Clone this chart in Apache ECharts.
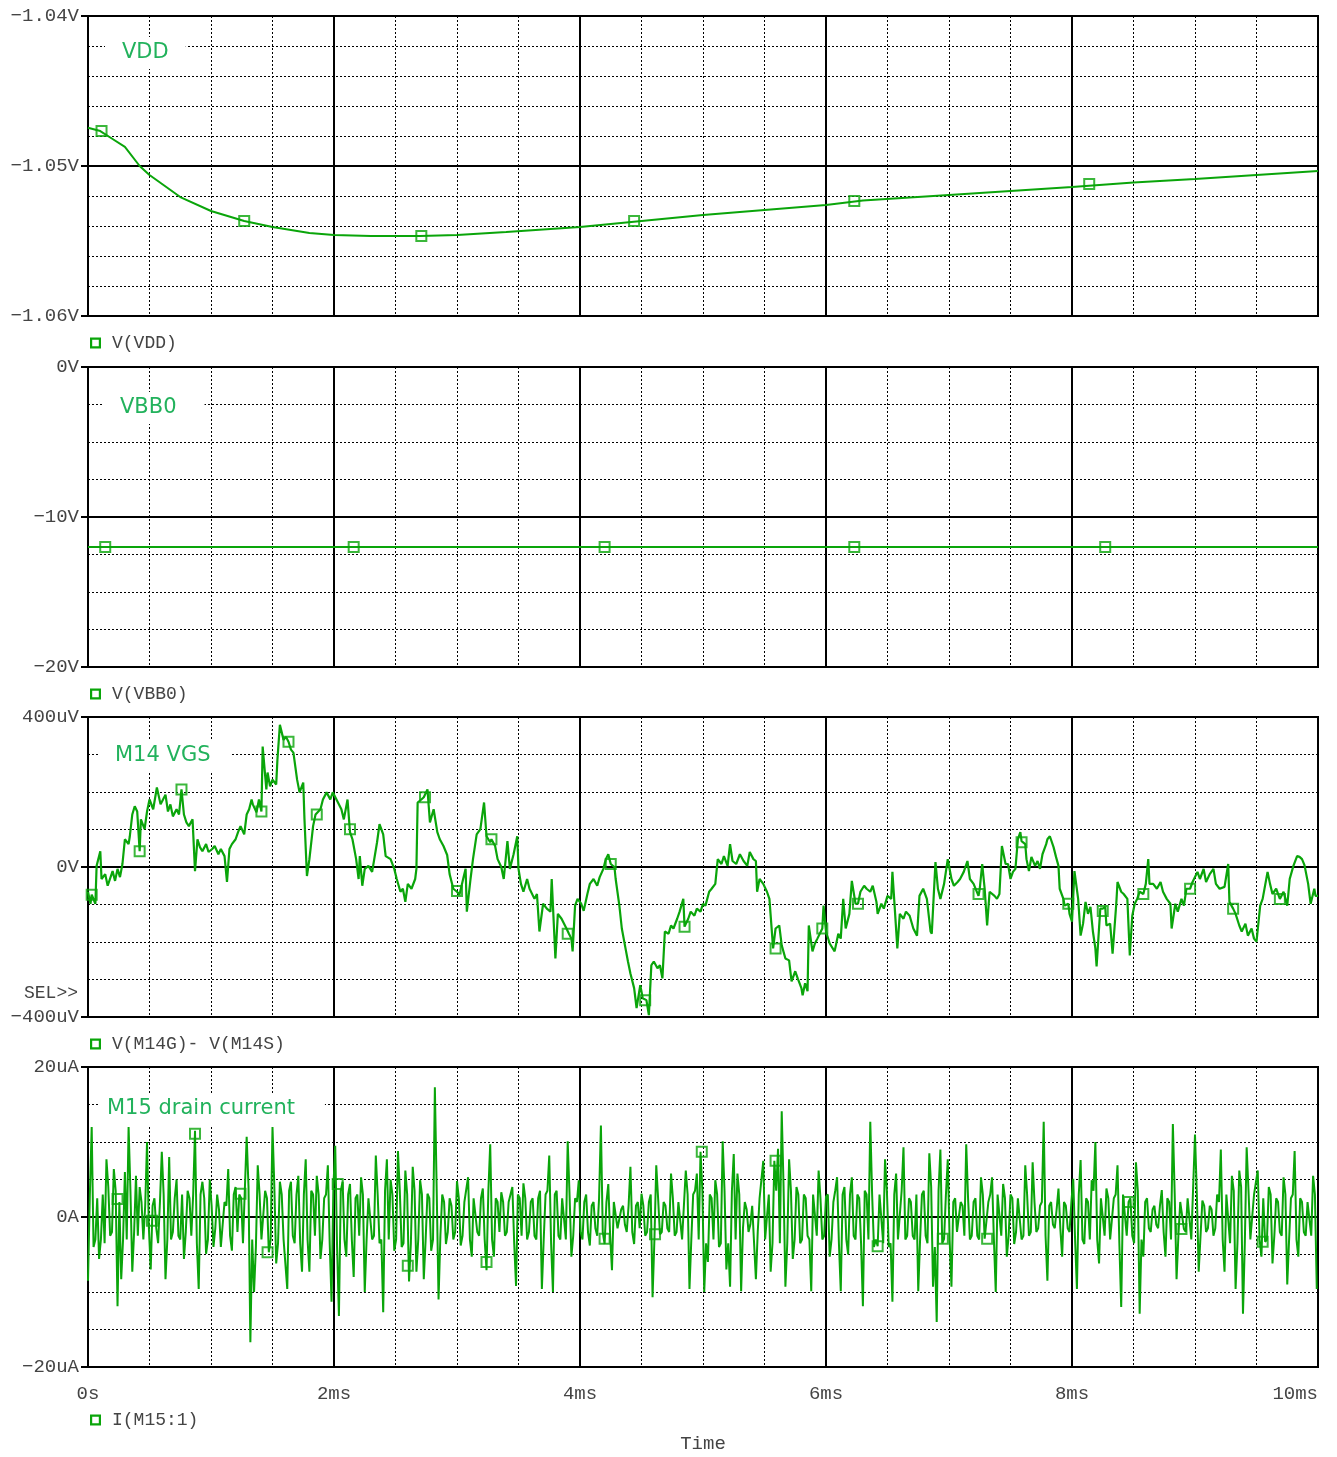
<!DOCTYPE html>
<html lang="en">
<head>
    <meta charset="UTF-8">
    <title>Transient noise</title>
    <script src="https://cdn.jsdelivr.net/npm/echarts@6/dist/echarts.min.js"></script>
    <style>
        body {
            margin: 0;
            background: #fff;
        }
        #chart {
            width: 1337px;
            height: 1457px;
        }
    </style>
</head>
<body>
<div id="chart"></div>
<script>
    // tick labels
    const timeTicks = ['0s', '2ms', '4ms', '6ms', '8ms', '10ms'];
    const vddTicks = ['\u22121.06V', '\u22121.05V', '\u22121.04V'];
    const vbbTicks = ['\u221220V', '\u221210V', '0V'];
    const vgsTicks = ['\u2212400uV', '0V', '400uV'];
    const idTicks = ['\u221220uA', '0A', '20uA'];

    // V(VDD), time in ms, value in V
    const vddT = [0, 0.1, 0.2, 0.3, 0.42, 0.5, 0.75, 1.0, 1.27, 1.5, 1.8, 2.0, 2.3, 2.7, 3.0, 3.4,
        4.0, 4.5, 5.0, 5.5, 6.0, 6.3, 7.0, 7.5, 8.0, 8.5, 9.0, 9.5, 10.0];
    const vddV = [-1.04745, -1.04767, -1.0482, -1.04873, -1.05, -1.0506, -1.05207, -1.053, -1.05367,
        -1.05407, -1.05447, -1.0546, -1.05467, -1.05467, -1.0546, -1.0544, -1.05407, -1.05367,
        -1.05327, -1.05293, -1.0526, -1.0523, -1.05193, -1.05167, -1.0514, -1.0511, -1.05087,
        -1.0506, -1.05033];
    const vddMarkT = [0.11, 1.27, 2.71, 4.44, 6.23, 8.14];
    const vddMarkV = [-1.04767, -1.05367, -1.05467, -1.05367, -1.05233, -1.0512];

    // V(VBB0)
    const vbbT = [0, 10];
    const vbbV = [-12, -12];
    const vbbMarkT = [0.14, 2.16, 4.2, 6.23, 8.27];

    // V(M14G)-V(M14S), [ms, uV]
    const vgsData = [
        [0, -66], [0.02, -98], [0.03, -74], [0.06, -98], [0.07, 3], [0.10, 42], [0.11, -32], [0.14, -19],
        [0.16, -50], [0.20, -11], [0.22, -37], [0.24, -5], [0.26, -27], [0.28, 8], [0.30, 74], [0.33, 61],
        [0.34, 82], [0.36, 140], [0.38, 162], [0.40, 148], [0.42, 42], [0.43, 127], [0.46, 101], [0.48, 148],
        [0.50, 180], [0.53, 154], [0.56, 212], [0.59, 167], [0.61, 180], [0.63, 193], [0.65, 148], [0.67, 167],
        [0.69, 135], [0.72, 154], [0.74, 140], [0.76, 207], [0.78, 140], [0.80, 119], [0.82, 109], [0.85, 127],
        [0.87, -11], [0.89, 74], [0.91, 53], [0.93, 42], [0.96, 61], [0.98, 40], [1.01, 48], [1.03, 56],
        [1.06, 34], [1.08, 48], [1.11, 29], [1.13, -40], [1.15, 48], [1.17, 61], [1.20, 74], [1.22, 93],
        [1.24, 109], [1.27, 87], [1.29, 140], [1.31, 154], [1.33, 180], [1.34, 167], [1.37, 146], [1.39, 180],
        [1.41, 148], [1.42, 321], [1.45, 207], [1.46, 252], [1.48, 215], [1.50, 233], [1.53, 220], [1.54, 286],
        [1.56, 379], [1.59, 339], [1.61, 347], [1.63, 334], [1.65, 313], [1.67, 305], [1.70, 233], [1.72, 199],
        [1.75, 225], [1.76, 127], [1.78, -24], [1.80, 21], [1.83, 109], [1.85, 140], [1.89, 154], [1.91, 180],
        [1.94, 199], [1.97, 180], [1.99, 199], [2.02, 180], [2.06, 154], [2.08, 127], [2.11, 180], [2.13, 93],
        [2.15, 74], [2.18, 21], [2.20, -32], [2.21, 29], [2.23, -50], [2.25, -5], [2.28, 3], [2.31, -13],
        [2.35, 66], [2.37, 114], [2.40, 87], [2.42, 29], [2.46, 21], [2.49, -5], [2.51, -32], [2.54, -66],
        [2.56, -58], [2.58, -93], [2.60, -45], [2.63, -58], [2.66, -32], [2.67, -5], [2.68, 172], [2.71, 180],
        [2.73, 186], [2.76, 207], [2.78, 119], [2.81, 154], [2.84, 93], [2.86, 74], [2.89, 56], [2.92, 32],
        [2.94, -19], [2.97, -58], [3.00, -66], [3.02, -74], [3.05, -32], [3.07, -5], [3.08, -119], [3.11, -32],
        [3.13, 21], [3.16, 87], [3.19, 101], [3.22, 172], [3.24, 82], [3.27, 66], [3.28, 74], [3.31, 56],
        [3.33, 21], [3.36, 0], [3.38, -32], [3.41, 69], [3.43, -5], [3.46, 34], [3.49, 82], [3.50, -5],
        [3.52, -45], [3.54, -66], [3.57, -32], [3.59, -58], [3.63, -85], [3.65, -72], [3.67, -172], [3.70, -98],
        [3.73, -111], [3.76, -119], [3.77, -32], [3.80, -244], [3.82, -125], [3.85, -138], [3.89, -164], [3.91, -178],
        [3.93, -191], [3.94, -225], [3.96, -103], [3.98, -85], [4.01, -98], [4.03, -117], [4.06, -72], [4.08, -45],
        [4.11, -32], [4.14, -50], [4.16, -27], [4.19, -5], [4.21, 21], [4.23, 34], [4.25, 8], [4.28, 0],
        [4.29, -32], [4.32, -103], [4.34, -164], [4.37, -217], [4.39, -252], [4.41, -284], [4.44, -323], [4.46, -376],
        [4.49, -315], [4.51, -350], [4.54, -355], [4.56, -395], [4.58, -262], [4.60, -252], [4.63, -270], [4.65, -262],
        [4.67, -297], [4.69, -172], [4.72, -178], [4.74, -156], [4.76, -164], [4.79, -138], [4.81, -119], [4.84, -85],
        [4.85, -159], [4.88, -138], [4.90, -119], [4.93, -130], [4.95, -111], [4.98, -119], [5.00, -98], [5.02, -103],
        [5.05, -66], [5.07, -58], [5.10, -45], [5.12, 21], [5.15, 8], [5.17, 29], [5.20, 3], [5.22, 61],
        [5.24, 16], [5.27, 8], [5.30, 34], [5.33, 16], [5.36, 3], [5.38, 40], [5.41, 21], [5.43, 16],
        [5.44, -66], [5.46, -32], [5.49, -45], [5.52, -66], [5.54, -85], [5.57, -217], [5.59, -164], [5.62, -156],
        [5.64, -209], [5.67, -244], [5.70, -249], [5.72, -305], [5.75, -278], [5.77, -297], [5.80, -323], [5.81, -342],
        [5.83, -310], [5.85, -331], [5.86, -156], [5.89, -225], [5.91, -204], [5.93, -191], [5.97, -164], [5.98, -103],
        [6.00, -172], [6.03, -204], [6.07, -225], [6.10, -178], [6.12, -191], [6.14, -85], [6.16, -164], [6.19, -125],
        [6.21, -37], [6.24, -98], [6.26, -98], [6.28, -66], [6.31, -50], [6.33, -58], [6.36, -66], [6.38, -50],
        [6.41, -93], [6.42, -125], [6.45, -98], [6.47, -111], [6.50, -77], [6.53, -85], [6.54, -13], [6.58, -217],
        [6.60, -125], [6.63, -138], [6.65, -119], [6.68, -130], [6.71, -164], [6.74, -183], [6.76, -77], [6.79, -58],
        [6.82, -85], [6.85, -172], [6.86, -178], [6.89, 13], [6.91, -58], [6.93, -85], [6.96, -45], [6.99, 21],
        [7.02, -32], [7.04, -50], [7.07, -40], [7.09, -32], [7.12, -13], [7.15, 16], [7.17, -32], [7.20, -45],
        [7.24, -77], [7.25, -58], [7.27, 8], [7.29, -58], [7.31, -156], [7.33, -66], [7.37, -77], [7.39, -85],
        [7.41, -72], [7.43, 56], [7.46, 8], [7.48, 8], [7.50, -32], [7.52, -13], [7.54, -5], [7.56, 74],
        [7.58, 93], [7.59, 69], [7.62, 61], [7.63, 21], [7.65, -11], [7.67, 27], [7.70, 3], [7.72, 16],
        [7.74, -5], [7.76, 34], [7.79, 61], [7.80, 74], [7.82, 82], [7.85, 53], [7.87, 27], [7.89, 3],
        [7.90, -58], [7.93, -85], [7.94, -103], [7.97, -98], [7.98, -125], [8.00, -146], [8.02, -11], [8.05, -85],
        [8.07, -183], [8.09, -151], [8.11, -93], [8.13, -125], [8.15, -106], [8.17, -172], [8.19, -217], [8.20, -265],
        [8.23, -111], [8.25, -111], [8.27, -106], [8.28, -156], [8.31, -151], [8.33, -231], [8.36, -98], [8.37, -40],
        [8.40, -66], [8.42, -72], [8.45, -85], [8.47, -236], [8.49, -130], [8.51, -98], [8.53, -85], [8.55, -66],
        [8.58, -72], [8.60, -45], [8.62, 21], [8.63, -45], [8.66, -45], [8.69, -58], [8.72, -40], [8.74, -66],
        [8.77, -85], [8.80, -98], [8.81, -164], [8.84, -98], [8.86, -119], [8.89, -85], [8.91, -103], [8.93, -58],
        [8.96, -58], [8.98, -40], [9.02, -13], [9.04, -32], [9.07, -5], [9.09, -40], [9.12, -19], [9.15, -5],
        [9.17, -45], [9.20, -58], [9.24, -53], [9.27, 8], [9.28, -93], [9.31, -111], [9.33, -125], [9.36, -156],
        [9.38, -172], [9.41, -151], [9.43, -183], [9.46, -164], [9.48, -191], [9.50, -199], [9.53, -103], [9.55, -85],
        [9.59, -13], [9.61, -45], [9.63, -72], [9.66, -58], [9.69, -85], [9.72, -66], [9.75, -103], [9.77, -32],
        [9.80, 3], [9.83, 29], [9.85, 27], [9.87, 21], [9.89, 5], [9.92, -45], [9.94, -98], [9.97, -58],
        [9.98, -77], [10.00, -77]
    ];
    const vgsMarkers = [
        [0.03, -74], [0.42, 42], [0.76, 207], [1.41, 148], [1.63, 334], [1.86, 140], [2.13, 101], [2.74, 186],
        [3.00, -64], [3.28, 74], [3.90, -178], [4.25, 8], [4.53, -355], [4.85, -159], [5.59, -217], [5.97, -164],
        [6.26, -98], [7.24, -72], [7.59, 66], [7.97, -98], [8.25, -117], [8.58, -72], [8.96, -58], [9.31, -111],
        [9.69, -85]
    ];

    // I(M15:1) in uA: peaks read every 0.03 ms, plus the band values read half way between them
    const idStep = 0.03;
    const idV = [
        -8.5, 12, -3, -5.6, 3, 7.7, -2.5, 6.4, -11.9, -8.3,
        6, 12, -7.3, 5.5, 4, -3, 10, -7, 2.5, -3.5,
        8.7, -8.3, 8, -2, 5, -3, -5.6, 3.5, -2.5, 11.5,
        -9.6, 4.7, -4.9, 5, -4, 3, -4, 2, 6.4, -4.5,
        4, 3, -3.5, 10.7, -16.7, -10, 6.9, -3, 3.5, -4.7,
        12, -6.2, 4.7, -3, -9.6, 4.7, -3.5, 5.5, -7.3, 7.7,
        -7.3, 3, 5.5, -5.6, 2.5, 6.9, -11.3, 9.5, -13.2, 4.7,
        -5.3, 4.4, -8, 3, 5.3, -10, 2.5, -3, 8.2, -3.5,
        -12.7, 7.7, 5, -4.5, 8.8, -4, 6.2, -8.6, 6.7, -7.3,
        4.9, -8.3, 3.1, -4.5, 17.3, -11, 3, -3.6, 2.5, -3,
        4.8, -3.8, 2, 5.3, -5.3, 2.7, -2.5, 3.8, -7.1, 9.7,
        -5.3, 2, 3.3, -2.5, 2, 4, -9.2, 2.5, 4.5, -3,
        2, -2.5, 2.5, -9.6, 3, 8.2, -10, 3.5, -3, 2.5,
        10.1, -5.3, 2.5, 4.9, -3, 3, -3.8, 2, -2.5, 12.2,
        -3.6, 4.4, -7.1, 2, -1.5, 1.5, -2, 6.7, -3.6, 2,
        3.1, -2.5, 2, -10.7, 6.9, -2.3, 2, -1.5, 5.8, -2.5,
        2, -3, 6.2, -9.6, 3, 5.8, 8.7, -10, -6, 2.5,
        4.9, -4, 10.1, -7, -9.3, 8.4, 5.8, -9.9, 2, -2,
        1.5, -8.3, 2.5, 7.5, -3, -7.3, 7.5, 9.1, 14.1, -9.3,
        7.7, -5.6, 4, -3.5, 3, -2.5, -9.9, 3, 6.2, -3,
        2.7, -5.3, 2, 5.3, -9.9, 4, -5, 5.3, -3, 2.5,
        -11.9, 3, 12.7, -4, -3.9, 3, 7.7, -4, -11.3, 5.8,
        -3, 9.3, -2.5, 2, -3, -9.9, 3, -2.5, 8.5, -9.3,
        -14, 9, -2.9, 7.7, -9.3, 2.5, -2, 1.5, 9.7, -3,
        2, -2.5, 5.3, -2.9, 2, 5.3, -10, 3, 4.4, -5.3,
        3, -3.6, 2.5, -3, 6.9, -2.5, 7.3, -2, 1.5, 12.7,
        -8.5, 2, -1.5, 3.8, -5.3, 1.5, -2, 5.1, -9.6, 7.6,
        -3.6, 2, 4.9, 10, -6.2, 2.5, 3.8, -3, 2.5, 6.9,
        -12, 3, 2, -2.5, 7.3, -12.9, -5.3, 2.5, -2, 1.5,
        -1.5, 3.6, -5.3, 2, 12.4, -8.3, 2, -1.6, 2.5, -3,
        11, -7.3, 2.2, -2, 1.5, -2.5, 3, 9, -7.3, 3,
        5.5, -9.6, 6.2, -12.9, 9.3, -3, 3, 6.2, -5.3, -3.3,
        4, -6.2, 2.5, -2, 5.3, -9, 2.5, 8.8, -5.3, 2,
        -2.5, 2.2, 5.5, -9.6
    ];
    const idMid = [
        3, -4, 2.5, -3, -3.5, 4, -2, 3.5, 2, -3,
        -3, 3.5, -2, -2.5, 2, 1.5, -1.5, 1.5, -1.5, 2,
        3, -3, -3, 2.5, -2.5, 3, -2, 2.5, 3, -3.5,
        3, 2.5, -3, 1.5, -1.5, 1, -1, 1.5, -2.5, 3,
        -2, 2.5, -3.5, 4, -3, -4, 3, -3, 2.5, -3,
        4, -3.5, 3, -3, 3.5, -2.5, 3, -3.5, 3, -3,
        3.5, -2.5, 3, -3, 3, -3.5, 4, -4, 3.5, -3,
        3, -3, 2.5, -2.5, 3, -3, 2.5, -2.5, 3, -3,
        3.5, -3, 3, -3, 3.5, -3.5, 3, -3.5, 3.5, -3,
        3, -3, 2.5, -3, 3.5, -2.5, 2, -2, 1.5, -2,
        2.5, -2.5, 2, -3, 2.5, -2, 2.5, -3, 3.5, -3,
        2.5, -2, 2, -2, 3, -3.5, 3, -2.5, 2.5, -2,
        2.5, -3, 3.5, -3, 3.5, -3.5, 3, -2.5, 2.5, -3,
        3, -2.5, 2, -2, 2, -2, 1.5, -1.5, 2.5, -2,
        2, -2.5, 2, -1.5, 1, -1, 1.5, -2, 1.5, -1.5,
        1.5, -2, 3, -3, 2.5, -2, 1.5, -2, 2.5, -2,
        2, -3, 3, -3, 3.5, -3, 3.5, -3.5, 3, -3,
        3, -3.5, 3.5, -3.5, 3.5, -3, 3, -1.5, 1, -1,
        1.5, -2, 2.5, -3, 3, -3.5, 3.5, -3.5, 4, -3.5,
        3.5, -3, 3, -3, 2.5, -3, 3, -2.5, 2.5, -2.5,
        3, -3, 3.5, -3.5, 3, -3, 3, -2.5, 3, -3.5,
        3.5, -3, 3, -3, 3, -3.5, 3.5, -3.5, 3, -3,
        3.5, -3, 2.5, -2.5, 3, -3, 3.5, -3.5, 4, -4,
        3.5, -3.5, 3, -3, 2, -2, 2, -2.5, 2.5, -2.5,
        2.5, -3, 3, -3, 3, -3, 3, -2.5, 2.5, -2.5,
        2.5, -2, 2.5, -2.5, 3, -2, 2, -1.5, 2, -2.5,
        1.5, -1, 1, -1.5, 2, -1.5, 2, -3, 3, -3,
        2.5, -3, 3.5, -3, 2.5, -2.5, 2.5, -3, 3, -3.5,
        3, -2.5, 2.5, -3.5, 3.5, -3, 2, -1.5, 1, -1,
        1.5, -2, 2.5, -3, 3, -2.5, 2, -2, 2.5, -3,
        3, -2.5, 1.5, -1.5, 1, -1.5, 2, -3, 3, -3.5,
        3.5, -3.5, 4, -3.5, 3.5, -3, 3, -3, 2.5, -3,
        3, -2.5, 2, -2.5, 3, -3, 3, -3, 2.5, -2,
        2, -2.5, 3
    ];
    const idMarkers = [
        [0.24, 2.4], [0.52, -0.5], [0.87, 11.1], [1.24, 3.1], [1.46, -4.7], [2.03, 4.4], [2.60, -6.5],
        [3.24, -6], [4.20, -2.9], [4.61, -2.3], [4.99, 8.7], [5.59, 7.5], [6.42, -3.9], [6.95, -2.9],
        [7.31, -2.9], [8.46, 2], [8.89, -1.6], [9.55, -3.3]
    ];

    const traceColor = '#0aa50a';
    const noteColor = '#22b25c';
    const monoFont = 'Liberation Mono';
    const labelColor = '#444';

    function zip(ts, vs) {
        return ts.map(function (t, i) { return [t, vs[i]]; });
    }

    // interleave peaks and band values on the 0.03 ms read grid
    const idData = [];
    idV.forEach(function (v, i) {
        idData.push([+(i * idStep).toFixed(3), v]);
        if (i < idMid.length) {
            idData.push([+((i + 0.5) * idStep).toFixed(3), idMid[i]]);
        }
    });

    const panels = [
        {top: 16, min: -1.06, max: -1.04, interval: 0.01, minor: 5, ticks: vddTicks, name: 'V(VDD)', legendTop: 334},
        {top: 367, min: -20, max: 0, interval: 10, minor: 4, ticks: vbbTicks, name: 'V(VBB0)', legendTop: 685},
        {top: 717, min: -400, max: 400, interval: 400, minor: 4, ticks: vgsTicks, name: 'V(M14G)- V(M14S)', legendTop: 1035},
        {top: 1067, min: -20, max: 20, interval: 20, minor: 4, ticks: idTicks, name: 'I(M15:1)', legendTop: 1411}
    ];

    const hollowSquare = 'path://M0,0H10V10H0Z M2,2V8H8V2Z';

    const grids = [], xAxes = [], yAxes = [], legends = [];
    panels.forEach(function (p, i) {
        const last = i === panels.length - 1;
        grids.push({left: 88, right: 19, top: p.top, height: 300, show: true, borderColor: '#000', borderWidth: 2});
        xAxes.push({
            type: 'value', gridIndex: i, min: 0, max: 10, interval: 2,
            axisLine: {show: true, lineStyle: {color: '#000', width: 2}},
            axisTick: {show: last, length: 8, lineStyle: {color: '#000', width: 2}},
            axisLabel: {
                show: last, margin: 17, color: labelColor, fontFamily: monoFont, fontSize: 19,
                alignMaxLabel: 'right',
                formatter: function (v) { return timeTicks[Math.round(v / 2)]; }
            },
            splitLine: {show: true, lineStyle: {color: '#000', width: 2}},
            minorTick: {show: false, splitNumber: 4},
            minorSplitLine: {show: true, lineStyle: {color: '#000', width: 1, type: [2, 2]}},
            name: last ? 'Time' : '', nameLocation: 'middle', nameGap: 67,
            nameTextStyle: {color: labelColor, fontFamily: monoFont, fontSize: 19}
        });
        yAxes.push({
            type: 'value', gridIndex: i, min: p.min, max: p.max, interval: p.interval,
            axisLine: {show: true, lineStyle: {color: '#000', width: 2}},
            axisTick: {show: true, length: 7, lineStyle: {color: '#000', width: 2}},
            axisLabel: {
                margin: 9, color: labelColor, fontFamily: monoFont, fontSize: 19,
                formatter: function (v) { return p.ticks[Math.round((v - p.min) / p.interval)]; }
            },
            splitLine: {show: true, lineStyle: {color: '#000', width: 2}},
            minorTick: {show: false, splitNumber: p.minor},
            minorSplitLine: {show: true, lineStyle: {color: '#000', width: 1, type: [2, 2]}}
        });
        legends.push({
            data: [p.name], left: 90, top: p.legendTop, padding: 0,
            icon: hollowSquare, itemWidth: 11, itemHeight: 11, selectedMode: false,
            textStyle: {color: labelColor, fontFamily: monoFont, fontSize: 18, padding: [0, 0, 0, 6]}
        });
    });

    function note(text, left, top, pad) {
        return {
            text: text, left: left, top: top, padding: pad, backgroundColor: '#fff',
            textStyle: {color: noteColor, fontFamily: 'DejaVu Sans', fontSize: 21, fontWeight: 'normal', lineHeight: 24}
        };
    }

    function markers(data, i) {
        return {
            type: 'scatter', xAxisIndex: i, yAxisIndex: i, data: data, symbol: 'rect', symbolSize: 10,
            itemStyle: {color: 'rgba(0,0,0,0)', borderColor: traceColor, borderWidth: 2}, z: 3
        };
    }

    function trace(name, data, i, width) {
        return {
            name: name, type: 'line', xAxisIndex: i, yAxisIndex: i, data: data, showSymbol: false,
            symbol: 'none', sampling: null, color: traceColor,
            lineStyle: {color: traceColor, width: width}
        };
    }

    const myChart = echarts.init(document.getElementById('chart'));
    const option = {
        animation: false,
        backgroundColor: '#fff',
        title: [
            note('VDD', 105, 37, [4, 17, 4, 17]),
            note('VBB0', 103, 392, [4, 28, 4, 17]),
            note('M14 VGS', 98, 740, [4, 20, 4, 17]),
            note('M15 drain current', 100, 1093, [4, 30, 4, 7]),
            {
                text: 'SEL>>', left: 24, top: 984, padding: 0,
                textStyle: {color: labelColor, fontFamily: monoFont, fontSize: 18, fontWeight: 'normal'}
            }
        ],
        legend: legends,
        grid: grids,
        xAxis: xAxes,
        yAxis: yAxes,
        series: [
            trace('V(VDD)', zip(vddT, vddV), 0, 2),
            markers(zip(vddMarkT, vddMarkV), 0),
            trace('V(VBB0)', zip(vbbT, vbbV), 1, 2),
            markers(vbbMarkT.map(function (t) { return [t, vbbV[0]]; }), 1),
            trace('V(M14G)- V(M14S)', vgsData, 2, 2.2),
            markers(vgsMarkers, 2),
            trace('I(M15:1)', idData, 3, 2),
            markers(idMarkers, 3)
        ]
    };
    myChart.setOption(option);
</script>
</body>
</html>
